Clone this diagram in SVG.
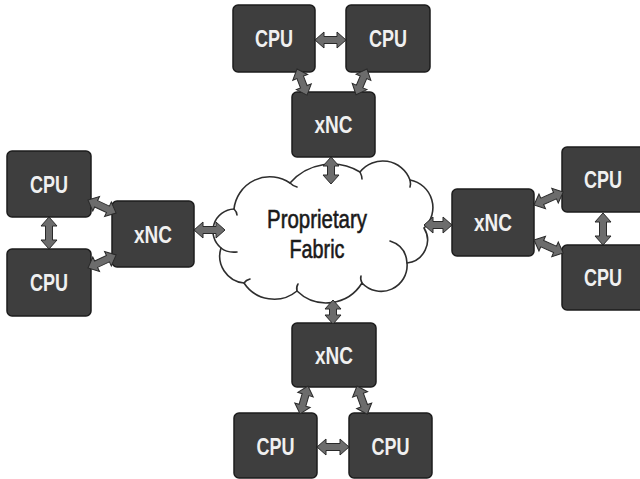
<svg xmlns="http://www.w3.org/2000/svg" xmlns:xlink="http://www.w3.org/1999/xlink" width="640" height="479" viewBox="0 0 640 479">
<style>
.box{fill:#3e3e3e;stroke:#1c1c1c;stroke-width:1.5}
.lbl{font-family:"Liberation Sans",Arial,sans-serif;font-size:24px;font-weight:bold;fill:#f0f0f0;text-anchor:middle}
.arr{fill:#6c6c6c;stroke:#2a2a2a;stroke-width:1;stroke-linejoin:miter}
.cloud{fill:#ffffff;stroke:#2e2e2e;stroke-width:1.6}
.curl{fill:none;stroke:#2e2e2e;stroke-width:1.6;stroke-linecap:round}
.ctext{font-family:"Liberation Sans",Arial,sans-serif;font-size:26px;fill:#1a1a1a;stroke:#1a1a1a;stroke-width:0.6;text-anchor:middle}
</style>
<defs>
<polygon id="a24" points="0,0 9,-8 9,-3.5 15,-3.5 15,-8 24,0 15,8 15,3.5 9,3.5 9,8"/>
<polygon id="a27" points="0,0 9,-8 9,-3.5 18,-3.5 18,-8 27,0 18,8 18,3.5 9,3.5 9,8"/>
<polygon id="a28" points="0,0 9,-8 9,-3.5 19,-3.5 19,-8 28,0 19,8 19,3.5 9,3.5 9,8"/>
<polygon id="a29" points="0,0 9,-8 9,-3.5 20,-3.5 20,-8 29,0 20,8 20,3.5 9,3.5 9,8"/>
<polygon id="a30" points="0,0 9,-8 9,-3.5 21,-3.5 21,-8 30,0 21,8 21,3.5 9,3.5 9,8"/>
<polygon id="a31" points="0,0 9,-8 9,-3.5 22,-3.5 22,-8 31,0 22,8 22,3.5 9,3.5 9,8"/>
<polygon id="a32" points="0,0 9,-8 9,-3.5 23,-3.5 23,-8 32,0 23,8 23,3.5 9,3.5 9,8"/>
</defs>
<rect width="640" height="479" fill="#ffffff"/>

<g id="cloud">
<path class="cloud" d="M221,248 A22,22 0 0 1 234,209 A36,36 0 0 1 290,183 A55,55 0 0 1 360,172 A29,29 0 0 1 410,180 A28,28 0 0 1 424,228 A23,23 0 0 1 407,263 A26,26 0 0 1 362,283 A42,42 0 0 1 297,291 A36,36 0 0 1 244,283 A27,27 0 0 1 221,248 Z"/>
<path class="curl" d="M221,248 Q227,253 237,252"/>
<path class="curl" d="M407,263 Q406,246 390,241"/>
<path class="curl" d="M244,283 Q246,280 250,279"/>
<path class="curl" d="M297,291 Q296,287 298,284"/>
<path class="curl" d="M362,283 Q360,279 361,276"/>
<path class="curl" d="M290,183 Q293,186 297,187"/>
<path class="curl" d="M360,172 Q362,176 362,179"/>
<path class="curl" d="M410,180 Q411,184 410,187"/>
<path class="curl" d="M234,209 Q237,212 237,215"/>
<text class="ctext" x="317" y="228" textLength="100" lengthAdjust="spacingAndGlyphs">Proprietary</text>
<text class="ctext" x="317" y="258" textLength="55" lengthAdjust="spacingAndGlyphs">Fabric</text>
</g>

<g id="cpu-top-1"><rect class="box" x="233" y="5" width="82" height="67" rx="5"/><text class="lbl" x="274" y="47" textLength="38" lengthAdjust="spacingAndGlyphs">CPU</text></g>
<g id="cpu-top-2"><rect class="box" x="346" y="5" width="84" height="67" rx="5"/><text class="lbl" x="388" y="47" textLength="38" lengthAdjust="spacingAndGlyphs">CPU</text></g>
<g id="xnc-top"><rect class="box" x="292" y="92" width="83" height="65" rx="5"/><text class="lbl" x="333.5" y="133" textLength="38" lengthAdjust="spacingAndGlyphs">xNC</text></g>

<g id="cpu-left-1"><rect class="box" x="7" y="151" width="84" height="66" rx="5"/><text class="lbl" x="49" y="192.5" textLength="38" lengthAdjust="spacingAndGlyphs">CPU</text></g>
<g id="cpu-left-2"><rect class="box" x="7" y="249" width="84" height="67" rx="5"/><text class="lbl" x="49" y="291" textLength="38" lengthAdjust="spacingAndGlyphs">CPU</text></g>
<g id="xnc-left"><rect class="box" x="112" y="201" width="82" height="66" rx="5"/><text class="lbl" x="153" y="242.5" textLength="38" lengthAdjust="spacingAndGlyphs">xNC</text></g>

<g id="xnc-right"><rect class="box" x="452" y="189" width="82" height="67" rx="5"/><text class="lbl" x="493" y="231" textLength="38" lengthAdjust="spacingAndGlyphs">xNC</text></g>
<g id="cpu-right-1"><rect class="box" x="562" y="147" width="84" height="65" rx="5"/><text class="lbl" x="603" y="188" textLength="38" lengthAdjust="spacingAndGlyphs">CPU</text></g>
<g id="cpu-right-2"><rect class="box" x="562" y="245" width="84" height="65" rx="5"/><text class="lbl" x="603" y="286" textLength="38" lengthAdjust="spacingAndGlyphs">CPU</text></g>

<g id="xnc-bottom"><rect class="box" x="292" y="323" width="84" height="64" rx="5"/><text class="lbl" x="334" y="363.5" textLength="38" lengthAdjust="spacingAndGlyphs">xNC</text></g>
<g id="cpu-bottom-1"><rect class="box" x="234" y="413" width="83" height="65" rx="5"/><text class="lbl" x="275.5" y="455" textLength="38" lengthAdjust="spacingAndGlyphs">CPU</text></g>
<g id="cpu-bottom-2"><rect class="box" x="349" y="413" width="83" height="65" rx="5"/><text class="lbl" x="390.5" y="455" textLength="38" lengthAdjust="spacingAndGlyphs">CPU</text></g>

<g id="connectors" class="arr">
<use xlink:href="#a31" href="#a31" transform="translate(315,40)"/>
<use xlink:href="#a28" href="#a28" transform="translate(297,69) rotate(69)"/>
<use xlink:href="#a28" href="#a28" transform="translate(367,69) rotate(113)"/>
<use xlink:href="#a27" href="#a27" transform="translate(331,157) rotate(90)"/>
<use xlink:href="#a31" href="#a31" transform="translate(88,200) rotate(25)"/>
<use xlink:href="#a31" href="#a31" transform="translate(88,268) rotate(-25)"/>
<use xlink:href="#a32" href="#a32" transform="translate(49,217) rotate(90)"/>
<use xlink:href="#a31" href="#a31" transform="translate(194,230)"/>
<use xlink:href="#a28" href="#a28" transform="translate(424,225)"/>
<use xlink:href="#a32" href="#a32" transform="translate(534,205) rotate(-24)"/>
<use xlink:href="#a32" href="#a32" transform="translate(534,240) rotate(24)"/>
<use xlink:href="#a32" href="#a32" transform="translate(603,213) rotate(90)"/>
<use xlink:href="#a24" href="#a24" transform="translate(333,300) rotate(90)"/>
<use xlink:href="#a29" href="#a29" transform="translate(308,386) rotate(106)"/>
<use xlink:href="#a30" href="#a30" transform="translate(357,386) rotate(70)"/>
<use xlink:href="#a32" href="#a32" transform="translate(317,447)"/>
</g>
</svg>
